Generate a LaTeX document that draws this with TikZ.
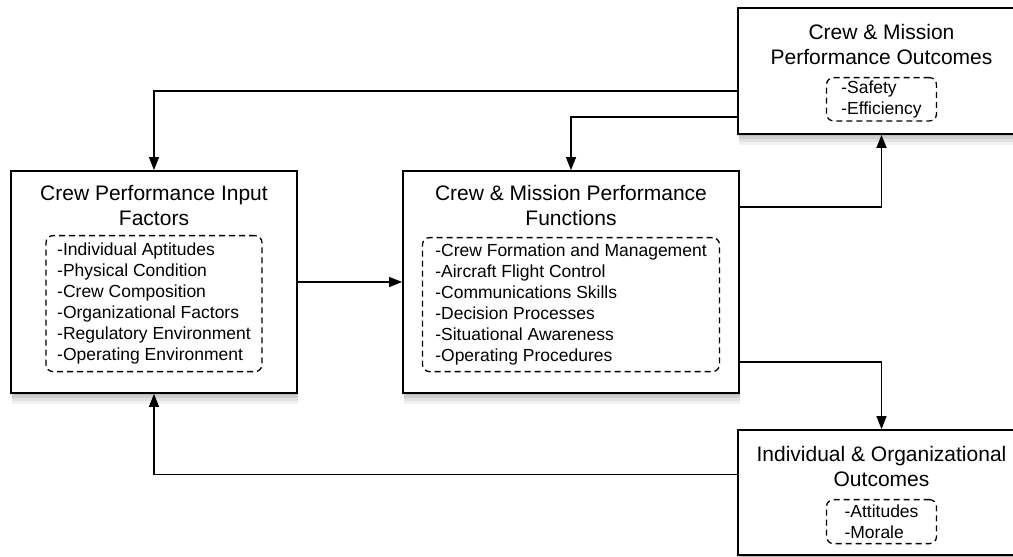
\documentclass[tikz,border=0pt]{standalone}
\usepackage{fontspec}
\setmainfont{Liberation Sans}
\usetikzlibrary{positioning,arrows.meta,shadows}

\tikzset{
  box/.style={draw, rectangle, line width=1.7pt, fill=white,
    drop shadow={opacity=0.10, shadow xshift=1pt, shadow yshift=-11pt},
    drop shadow={opacity=0.15, shadow xshift=1pt, shadow yshift=-8pt},
    drop shadow={opacity=0.20, shadow xshift=1pt, shadow yshift=-5pt},
    drop shadow={opacity=0.25, shadow xshift=0pt, shadow yshift=-2pt}},
  title/.style={align=center, inner sep=0pt, font=\fontsize{21}{25}\selectfont},
  list/.style={draw, dash pattern=on 6pt off 4pt, line width=1.3pt,
    rounded corners=7pt, align=left, inner xsep=9pt, inner ysep=3pt,
    font=\fontsize{17.5}{21}\selectfont},
  link/.style={line width=1.3pt, -{Triangle[length=13pt, width=10pt]}},
}

\begin{document}
\begin{tikzpicture}[x=1pt, y=-1pt]
\clip (0,0) rectangle (1013,557);

% the four blocks
\node[box, minimum width=286pt, minimum height=222pt] (inputs) at (154,282) {};
\node[box, minimum width=336pt, minimum height=222pt] (functions) at (571,282) {};
\node[box, minimum width=287pt, minimum height=126pt] (perf) at (881.5,71) {};
\node[box, minimum width=287pt, minimum height=125pt] (outcomes) at (881.5,492.5) {};

% titles
\node[title, below=15pt of inputs.north] (inputs-title) {Crew Performance Input\\Factors};
\node[title, below=15pt of functions.north] (functions-title) {Crew \& Mission Performance\\Functions};
\node[title, below=17pt of perf.north] (perf-title) {Crew \& Mission\\Performance Outcomes};
\node[title, below=17pt of outcomes.north] (outcomes-title) {Individual \& Organizational\\Outcomes};

% dashed lists
\node[list, below=9pt of inputs-title, minimum width=216pt, minimum height=136pt] (inputs-list)
  {-Individual Aptitudes\\-Physical Condition\\-Crew Composition\\-Organizational Factors\\-Regulatory Environment\\-Operating Environment};
\node[list, below=11pt of functions-title, minimum width=297pt, minimum height=134pt] (functions-list)
  {-Crew Formation and Management\\-Aircraft Flight Control\\-Communications Skills\\-Decision Processes\\-Situational Awareness\\-Operating Procedures};
\node[list, below=12pt of perf-title, minimum width=110pt, minimum height=43pt] (perf-list)
  {-Safety\\-Efficiency};
\node[list, below=12pt of outcomes-title, minimum width=110pt, minimum height=44pt] (outcomes-list)
  {-Attitudes\\-Morale};

% connectors
\draw[link] ([yshift=-20pt]perf.west) -| (inputs.north);
\draw[link] ([yshift=-46pt]perf.west) -| (functions.north);
\draw[link] ([yshift=75pt]functions.east) -| (perf.south);
\draw[link] (inputs) -- (functions);
\draw[link] ([yshift=-80pt]functions.east) -| (outcomes.north);
\draw[link] ([yshift=18pt]outcomes.west) -| (inputs.south);

\end{tikzpicture}
\end{document}
